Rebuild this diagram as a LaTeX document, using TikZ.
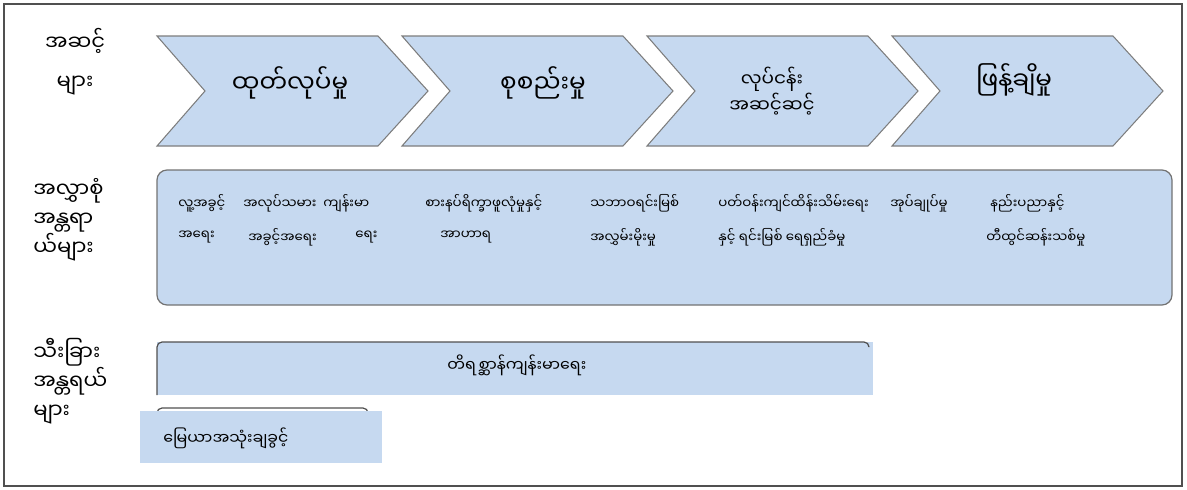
\documentclass[tikz,border=0pt]{standalone}
\usepackage{fontspec}
\newfontfamily\mmfont[Script=Myanmar]{Noto Sans Myanmar UI}
\definecolor{boxblue}{RGB}{198,217,240}
\definecolor{edgegray}{RGB}{125,125,125}
\definecolor{framegray}{RGB}{80,80,80}

\begin{document}
\begin{tikzpicture}
    [
    x=0.02cm, y=-0.02cm,
    chevron/.style={draw=edgegray,fill=boxblue,line width=0.6pt},
    band/.style={draw=framegray!80,fill=boxblue,line width=0.7pt,rounded corners=0.2cm},
    stage/.style={font=\mmfont\fontsize{14}{18}\selectfont,align=center,inner sep=0pt},
    rowlabel/.style={font=\mmfont\fontsize{12}{16.4}\selectfont,align=left,inner sep=0pt,anchor=west},
    item/.style={font=\mmfont\fontsize{7.6}{10}\selectfont,inner sep=0pt,anchor=west},
    ]
    \useasboundingbox (0,0) rectangle (1187,490);
    \draw [framegray,line width=0.8pt] (4,4) rectangle (1182,486);

    % stages
    \draw [chevron] (157,36) -- (378,36) -- (428,91) -- (378,146) -- (157,146) -- (205,91) -- cycle;
    \draw [chevron] (402,36) -- (623,36) -- (673,91) -- (623,146) -- (402,146) -- (450,91) -- cycle;
    \draw [chevron] (647,36) -- (868,36) -- (918,91) -- (868,146) -- (647,146) -- (695,91) -- cycle;
    \draw [chevron] (892,36) -- (1113,36) -- (1163,91) -- (1113,146) -- (892,146) -- (940,91) -- cycle;
    \node (s1) at (290,83) [stage] {ထုတ်လုပ်မှု};
    \node (s2) at (543,83) [stage] {စုစည်းမှု};
    \node (s3) at (772,91) [stage,font=\mmfont\fontsize{10.5}{15}\selectfont] {လုပ်ငန်း\\အဆင့်ဆင့်};
    \node (s4) at (1014,80) [stage] {ဖြန့်ချိမှု};

    % row labels
    \node (l1) at (75,62) [rowlabel,anchor=center,align=center,font=\mmfont\fontsize{12}{22}\selectfont] {အဆင့်\\များ};
    \node (l2) at (33,220) [rowlabel] {အလွှာစုံ\\အန္တရာ\\ယ်များ};
    \node (l3) at (33,381) [rowlabel] {သီးခြား\\အန္တရယ်\\များ};

    % cross-cutting risks
    \draw [band] (157,170) rectangle (1172,305);
    \node (a1) at (178,203) [item] {လူ့အခွင့်};
    \node (a2) at (243,203) [item] {အလုပ်သမား};
    \node (a3) at (323,203) [item] {ကျန်းမာ};
    \node (a4) at (425,203) [item] {စားနပ်ရိက္ခာဖူလုံမှုနှင့်};
    \node (a5) at (590,203) [item] {သဘာဝရင်းမြစ်};
    \node (a6) at (718,203) [item] {ပတ်ဝန်းကျင်ထိန်းသိမ်းရေး};
    \node (a7) at (890,203) [item] {အုပ်ချုပ်မှု};
    \node (a8) at (990,203) [item] {နည်းပညာနှင့်};
    \node (b1) at (178,237) [item] {အရေး};
    \node (b2) at (248,237) [item] {အခွင့်အရေး};
    \node (b3) at (355,237) [item] {ရေး};
    \node (b4) at (440,237) [item] {အာဟာရ};
    \node (b5) at (590,237) [item] {အလွှမ်းမိုးမှု};
    \node (b6) at (718,237) [item] {နှင့် ရင်းမြစ် ရေရှည်ခံမှု};
    \node (b8) at (986,237) [item] {တီထွင်ဆန်းသစ်မှု};

    % specific risks
    \fill [boxblue] (157,342) rectangle (873,395);
    \draw [framegray,line width=0.7pt,rounded corners=0.1cm] (157,395) -- (157,342) -- (869,342) -- (869,347);
    \node (c1) at (447,365) [item,font=\mmfont\fontsize{9}{11}\selectfont] {တိရစ္ဆာန်ကျန်းမာရေး};
    \draw [framegray,line width=0.7pt,rounded corners=0.1cm] (157,415) -- (157,408) -- (368,408) -- (368,415);
    \fill [boxblue] (140,411) rectangle (382,463);
    \node (c2) at (163,438) [item,font=\mmfont\fontsize{9}{11}\selectfont] {မြေယာအသုံးချခွင့်};
\end{tikzpicture}
\end{document}
